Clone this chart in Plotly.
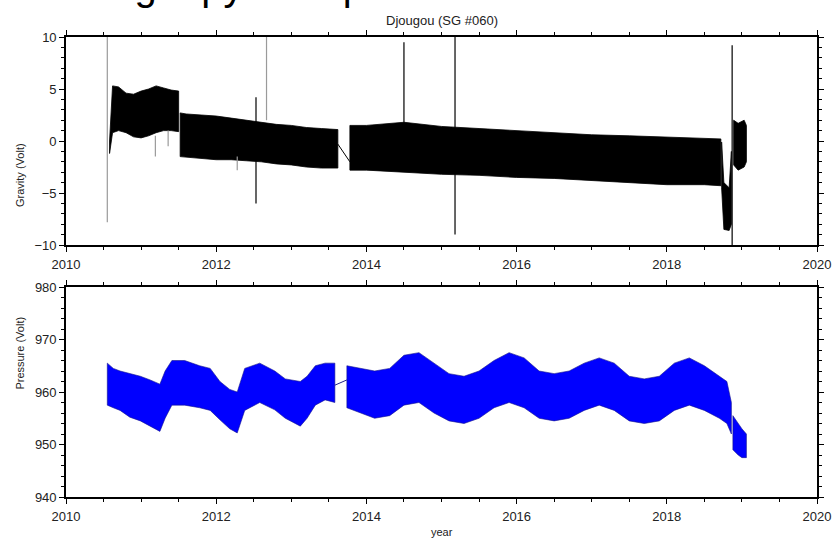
import plotly.graph_objects as go

# ---------------- data ----------------
# Gravity envelope, per continuous segment: time (year), upper, lower (Volt)
grav_seg_t = [
    [2010.58, 2010.62, 2010.70, 2010.80, 2010.90, 2011.00, 2011.10, 2011.20, 2011.30, 2011.40, 2011.50],
    [2011.52, 2011.60, 2011.80, 2012.00, 2012.20, 2012.40, 2012.60, 2012.80, 2013.00, 2013.20, 2013.40, 2013.62],
    [2013.78, 2014.00, 2014.50, 2015.00, 2015.50, 2016.00, 2016.50, 2017.00, 2017.50, 2018.00, 2018.50, 2018.72],
    [2018.73, 2018.76, 2018.83, 2018.86],
    [2018.89, 2018.95, 2019.03, 2019.06],
]
grav_seg_hi = [
    [0.0, 5.3, 5.2, 4.6, 4.5, 4.8, 5.0, 5.3, 5.1, 4.9, 4.8],
    [2.7, 2.6, 2.5, 2.4, 2.2, 2.0, 1.8, 1.6, 1.5, 1.3, 1.2, 1.1],
    [1.5, 1.5, 1.8, 1.4, 1.2, 1.0, 0.8, 0.6, 0.5, 0.4, 0.3, 0.2],
    [-0.1, -4.0, -4.5, -1.0],
    [2.0, 1.7, 2.0, 1.5],
]
grav_seg_lo = [
    [-1.2, 0.8, 1.0, 0.8, 0.4, 0.3, 0.5, 0.8, 1.0, 1.0, 0.9],
    [-1.5, -1.6, -1.7, -1.8, -1.8, -1.9, -2.0, -2.2, -2.3, -2.5, -2.6, -2.6],
    [-2.8, -2.8, -3.0, -3.2, -3.3, -3.5, -3.6, -3.8, -4.0, -4.2, -4.2, -4.3],
    [-4.5, -8.5, -8.6, -8.0],
    [-2.3, -2.8, -2.5, -2.0],
]
grav_link_t = [2013.62, 2013.78]
grav_link_v = [-0.3, -2.0]

# Gravity spikes: time, top, bottom, colour
spike_t = [2010.55, 2011.19, 2011.36, 2012.28, 2012.53, 2012.67, 2014.50, 2015.18, 2018.87]
spike_top = [10.0, 0.5, 1.0, -1.5, 4.2, 10.0, 9.5, 10.0, 9.2]
spike_bot = [-7.8, -1.5, -0.5, -2.8, -6.0, 2.0, 1.5, -9.0, -10.0]
spike_gray = [True, True, True, True, False, True, False, False, False]

# Pressure envelope, per segment
pres_seg_t = [
    [2010.55, 2010.63, 2010.72, 2010.85, 2010.99, 2011.12, 2011.25, 2011.32, 2011.41, 2011.58,
     2011.78, 2011.92, 2012.05, 2012.18, 2012.28, 2012.38, 2012.58, 2012.78, 2012.92, 2013.12,
     2013.21, 2013.32, 2013.45, 2013.58],
    [2013.74, 2013.91, 2014.11, 2014.31, 2014.50, 2014.70, 2014.90, 2015.10, 2015.30, 2015.50,
     2015.70, 2015.90, 2016.10, 2016.30, 2016.50, 2016.70, 2016.90, 2017.10, 2017.30, 2017.50,
     2017.70, 2017.90, 2018.10, 2018.30, 2018.50, 2018.70, 2018.80, 2018.86],
    [2018.88, 2018.95, 2019.00, 2019.06],
]
pres_seg_hi = [
    [965.5, 964.5, 964.0, 963.5, 963.0, 962.3, 961.5, 964.0, 966.0, 966.0,
     965.0, 964.5, 962.0, 960.5, 960.0, 964.5, 965.5, 964.0, 962.5, 962.0,
     963.0, 965.0, 965.5, 965.5],
    [965.0, 964.5, 964.0, 964.5, 967.0, 967.5, 965.5, 963.5, 963.0, 964.0,
     966.0, 967.5, 966.5, 964.0, 963.5, 964.0, 965.5, 966.5, 965.5, 963.0,
     962.5, 963.0, 965.5, 966.5, 965.0, 963.0, 962.0, 958.0],
    [955.5, 954.0, 953.0, 952.0],
]
pres_seg_lo = [
    [957.5, 957.0, 956.5, 955.2, 954.5, 953.5, 952.5, 955.0, 957.5, 957.5,
     957.0, 956.5, 954.7, 953.0, 952.2, 956.5, 958.0, 956.6, 955.0, 953.5,
     955.0, 957.5, 958.5, 958.0],
    [957.0, 956.0, 955.0, 955.5, 957.5, 958.0, 956.0, 954.5, 954.0, 955.0,
     957.0, 958.0, 957.0, 955.0, 954.5, 955.0, 956.5, 957.5, 956.5, 954.5,
     954.0, 954.5, 956.5, 957.5, 956.5, 955.0, 954.0, 952.0],
    [949.0, 948.0, 947.5, 947.5],
]
pres_link_t = [2013.58, 2013.74]
pres_link_v = [961.3, 962.3]

title_text = "Djougou (SG #060)"
header_text = "Drawing a pyGMT plot"
grav_label = "Gravity (Volt)"
pres_label = "Pressure (Volt)"
x_label = "year"
x_tickvals = [2010, 2012, 2014, 2016, 2018, 2020]

# ---------------- build figure ----------------
def polygon(ts, his, los):
    xs, ys = [], []
    for t, h, l in zip(ts, his, los):
        xs += list(t) + list(t)[::-1] + [t[0], None]
        ys += list(h) + list(l)[::-1] + [h[0], None]
    return xs, ys

fig = go.Figure()

gx, gy = polygon(grav_seg_t, grav_seg_hi, grav_seg_lo)
fig.add_trace(go.Scatter(x=gx, y=gy, mode="lines", fill="toself", fillcolor="black",
                         line=dict(color="black", width=0.8), xaxis="x", yaxis="y",
                         hoverinfo="skip", showlegend=False))
fig.add_trace(go.Scatter(x=grav_link_t, y=grav_link_v, mode="lines",
                         line=dict(color="black", width=1), xaxis="x", yaxis="y", showlegend=False))

for gray in (True, False):
    sx, sy = [], []
    for t, a, b, g in zip(spike_t, spike_top, spike_bot, spike_gray):
        if g == gray:
            sx += [t, t, None]
            sy += [a, b, None]
    fig.add_trace(go.Scatter(x=sx, y=sy, mode="lines", cliponaxis=True,
                             line=dict(color="#9a9a9a" if gray else "black", width=1.2),
                             xaxis="x", yaxis="y", showlegend=False))

px_, py_ = polygon(pres_seg_t, pres_seg_hi, pres_seg_lo)
fig.add_trace(go.Scatter(x=px_, y=py_, mode="lines", fill="toself", fillcolor="#0000ff",
                         line=dict(color="rgba(20,20,140,0.75)", width=0.8), xaxis="x2", yaxis="y2",
                         hoverinfo="skip", showlegend=False))
fig.add_trace(go.Scatter(x=pres_link_t, y=pres_link_v, mode="lines",
                         line=dict(color="#20208c", width=1), xaxis="x2", yaxis="y2", showlegend=False))

FONT = "Liberation Sans, Arial, sans-serif"
common_x = dict(range=[2010, 2020], tickvals=x_tickvals, showline=True, linecolor="black",
                linewidth=1.6, mirror="allticks", ticks="outside", ticklen=5, tickwidth=1,
                tickcolor="black", showgrid=False, zeroline=False, automargin=False,
                minor=dict(dtick=0.5, ticks="outside", ticklen=3, tickwidth=1, tickcolor="black",
                           showgrid=False),
                tickfont=dict(size=13, color="#222"), ticklabelstandoff=2)
common_y = dict(showline=True, linecolor="black", linewidth=1.6, mirror="allticks",
                ticks="outside", ticklen=5, tickwidth=1, tickcolor="black", showgrid=False,
                zeroline=False, automargin=False, tickfont=dict(size=13, color="#222"))

fig.update_layout(
    width=832, height=549,
    margin=dict(l=66, r=15, t=37, b=52, autoexpand=False),
    paper_bgcolor="white", plot_bgcolor="white",
    font=dict(family=FONT, color="#222"),
    showlegend=False,
    # header line of the page: only its descenders show below the top edge
    title=dict(text=header_text, xref="container", yref="container", x=0.012, xanchor="left",
               y=1.0, yanchor="bottom", pad=dict(t=0, b=0, l=0, r=0),
               font=dict(size=40, color="black", family="Liberation Sans, Arial")),
    xaxis=dict(**common_x, domain=[0, 1], anchor="y"),
    yaxis=dict(**common_y, domain=[0.5478, 1], anchor="x", range=[-10, 10], dtick=5,
               minor=dict(dtick=1, ticks="outside", ticklen=3, tickwidth=1, tickcolor="black")),
    xaxis2=dict(**common_x, domain=[0, 1], anchor="y2"),
    yaxis2=dict(**common_y, domain=[0, 0.4565], anchor="x2", range=[940, 980], dtick=10,
                minor=dict(dtick=2, ticks="outside", ticklen=3, tickwidth=1, tickcolor="black")),
    annotations=[
        dict(text=title_text, xref="paper", yref="paper", x=0.5, y=1.0, yanchor="bottom",
             yshift=7, showarrow=False, font=dict(size=13, color="#222")),
        dict(text=grav_label, xref="paper", yref="paper", x=-0.0719, y=0.774, textangle=-90,
             showarrow=False, font=dict(size=11, color="#222")),
        dict(text=pres_label, xref="paper", yref="paper", x=-0.0719, y=0.228, textangle=-90,
             showarrow=False, font=dict(size=11, color="#222")),
        dict(text=x_label, xref="paper", yref="paper", x=0.5, y=-0.0935,
             showarrow=False, font=dict(size=11, color="#222")),
    ],
)

fig.write_html("out.html")
